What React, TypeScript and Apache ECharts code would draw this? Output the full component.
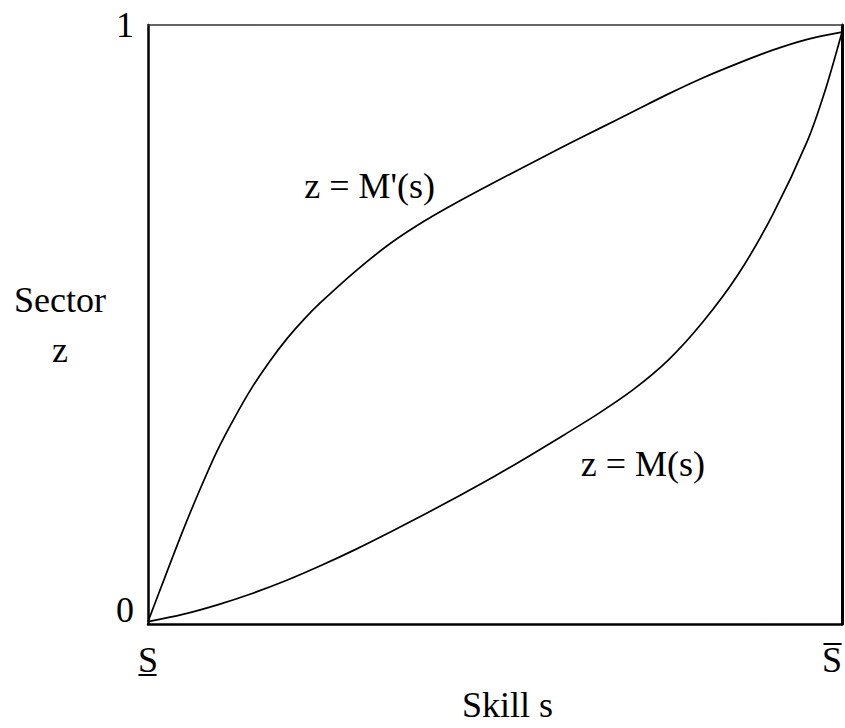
import React, { useEffect, useRef } from "react";
import * as echarts from "echarts";

// Skill s (0 = lower bound S, 1 = upper bound S) and sector z
const upperS = [0, 0.025, 0.05, 0.075, 0.1, 0.125, 0.15, 0.175, 0.2, 0.225, 0.25, 0.3, 0.35, 0.4, 0.45, 0.5, 0.55, 0.6, 0.65, 0.7, 0.75, 0.8, 0.85, 0.9, 0.95, 1];
const upperZ = [0.004, 0.08, 0.155, 0.225, 0.29, 0.345, 0.395, 0.438, 0.476, 0.509, 0.538, 0.59, 0.636, 0.674, 0.707, 0.738, 0.768, 0.798, 0.827, 0.856, 0.885, 0.912, 0.936, 0.958, 0.976, 0.988];

const lowerS = [0, 0.05, 0.1, 0.15, 0.2, 0.25, 0.3, 0.35, 0.4, 0.45, 0.5, 0.55, 0.6, 0.65, 0.7, 0.75, 0.8, 0.85, 0.9, 0.95, 0.975, 1];
const lowerZ = [0.004, 0.016, 0.032, 0.051, 0.073, 0.098, 0.125, 0.154, 0.184, 0.215, 0.247, 0.281, 0.316, 0.352, 0.392, 0.441, 0.505, 0.583, 0.683, 0.806, 0.888, 0.988];

const curveNames = ["z = M'(s)", "z = M(s)"];
const curveLabelS = [0.3194, 0.713];
const curveLabelZ = [0.7317, 0.2667];

const xTickLabels = ["S\u0332", "S\u0305"];
const yTickLabels = ["0", "1"];
const xAxisName = "Skill s";
const yAxisName = "Sector\nz";

const FONT = "'Liberation Serif', 'Times New Roman', serif";

export default function App() {
  const ref = useRef<HTMLDivElement>(null);
  useEffect(() => {
    if (!ref.current) return;
    const chart = echarts.init(ref.current, null, { renderer: "svg" });
    const lineStyle = { color: "#000", width: 1.7 };
    chart.setOption({
      animation: false,
      backgroundColor: "#fff",
      textStyle: { fontFamily: FONT, color: "#000" },
      grid: { left: 148, top: 25, width: 695, height: 600 },
      xAxis: [
        {
          type: "value",
          min: 0,
          max: 1,
          interval: 1,
          position: "bottom",
          axisLine: { show: true, onZero: false, lineStyle: { color: "#000", width: 2.5 } },
          axisTick: { show: false },
          splitLine: { show: false },
          axisLabel: {
            margin: 18,
            fontSize: 36,
            fontFamily: FONT,
            color: "#000",
            alignMaxLabel: "right",
            formatter: (v: number) => (v === 0 ? xTickLabels[0] : xTickLabels[1]),
          },
          name: xAxisName,
          nameLocation: "middle",
          nameGap: 63,
          nameTextStyle: { fontSize: 36, fontFamily: FONT, color: "#000", padding: [0, 0, 0, 25] },
        },
        {
          type: "value",
          min: 0,
          max: 1,
          position: "top",
          axisLine: { show: true, onZero: false, lineStyle: { color: "#333", width: 1.5 } },
          axisTick: { show: false },
          axisLabel: { show: false },
          splitLine: { show: false },
        },
      ],
      yAxis: [
        {
          type: "value",
          min: 0,
          max: 1,
          interval: 1,
          position: "left",
          axisLine: { show: true, onZero: false, lineStyle: { color: "#000", width: 2.5 } },
          axisTick: { show: false },
          splitLine: { show: false },
          axisLabel: {
            margin: 14,
            fontSize: 36,
            lineHeight: 29,
            fontFamily: FONT,
            color: "#000",
            formatter: (v: number) => (v === 0 ? yTickLabels[0] + "\n" : yTickLabels[1]),
          },
          name: yAxisName,
          nameLocation: "middle",
          nameRotate: 0,
          nameGap: 88,
          nameTextStyle: {
            fontSize: 36,
            lineHeight: 50,
            fontFamily: FONT,
            color: "#000",
            align: "center",
            verticalAlign: "middle",
            padding: [0, 0, 100, 0],
          },
        },
        {
          type: "value",
          min: 0,
          max: 1,
          position: "right",
          offset: 0.5,
          axisLine: { show: true, onZero: false, lineStyle: { color: "#000", width: 3 } },
          axisTick: { show: false },
          axisLabel: { show: false },
          splitLine: { show: false },
        },
      ],
      series: [
        {
          type: "line",
          name: curveNames[0],
          data: upperS.map((s, i) => [s, upperZ[i]]),
          showSymbol: false,
          smooth: 0.3,
          lineStyle,
          silent: true,
        },
        {
          type: "line",
          name: curveNames[1],
          data: lowerS.map((s, i) => [s, lowerZ[i]]),
          showSymbol: false,
          smooth: 0.3,
          lineStyle,
          silent: true,
        },
        {
          type: "scatter",
          symbolSize: 0,
          silent: true,
          itemStyle: { opacity: 1 },
          data: curveNames.map((n, i) => ({ name: n, value: [curveLabelS[i], curveLabelZ[i]] })),
          label: {
            show: true,
            position: "inside",
            formatter: (p: any) => p.name,
            fontSize: 36,
            fontFamily: FONT,
            color: "#000",
            textBorderWidth: 0,
          },
        },
      ],
    });
    return () => chart.dispose();
  }, []);
  return (
    <div
      ref={ref}
      style={{ position: "fixed", left: 0, top: 0, width: 845, height: 728, background: "#fff" }}
    />
  );
}
